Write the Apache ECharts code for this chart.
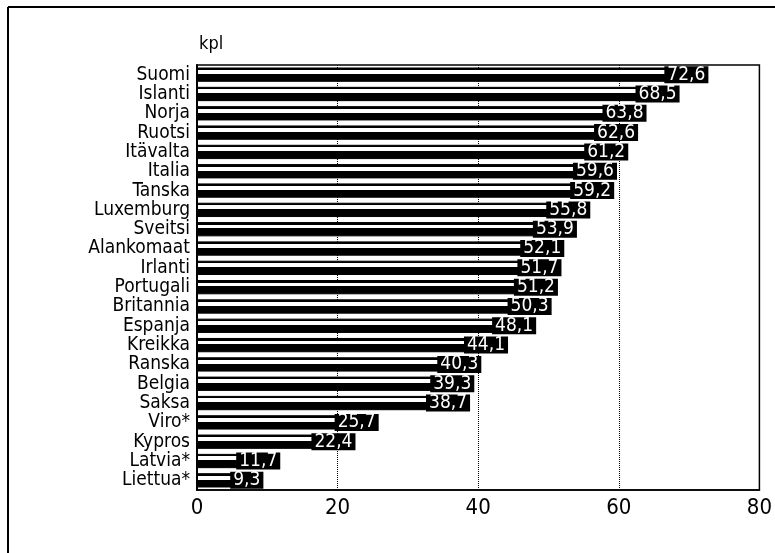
<!DOCTYPE html>
<html>
<head>
<meta charset="utf-8">
<script src="https://cdn.jsdelivr.net/npm/echarts@6/dist/echarts.min.js"></script>
<style>
  html, body { margin: 0; padding: 0; background: #fff; }
  #chart { width: 775px; height: 553px; }
</style>
</head>
<body>
<div id="chart"></div>
<script>
const countries = ['Suomi', 'Islanti', 'Norja', 'Ruotsi', 'Itävalta', 'Italia', 'Tanska',
  'Luxemburg', 'Sveitsi', 'Alankomaat', 'Irlanti', 'Portugali', 'Britannia', 'Espanja',
  'Kreikka', 'Ranska', 'Belgia', 'Saksa', 'Viro*', 'Kypros', 'Latvia*', 'Liettua*']
const values = [72.6, 68.5, 63.8, 62.6, 61.2, 59.6, 59.2, 55.8, 53.9, 52.1, 51.7, 51.2,
  50.3, 48.1, 44.1, 40.3, 39.3, 38.7, 25.7, 22.4, 11.7, 9.3]
const xTicks = [0, 20, 40, 60, 80]
const unitLabel = 'kpl'

// kapea kirjasin: font-stretch kulkee fontWeight-kentän kautta canvasille
const font = '"DejaVu Sans Condensed", "DejaVu Sans", sans-serif'
const narrow = 'condensed'

const chart = echarts.init(document.getElementById('chart'))

// musta palkki, jossa valkoinen raita
const barFill = new echarts.graphic.LinearGradient(0, 0, 0, 1, [
  { offset: 0, color: '#000' },
  { offset: 0.18, color: '#000' },
  { offset: 0.18, color: '#fff' },
  { offset: 0.45, color: '#fff' },
  { offset: 0.45, color: '#000' },
  { offset: 1, color: '#000' }
])

chart.setOption({
  animation: false,
  backgroundColor: '#fff',
  textStyle: { fontFamily: font },
  graphic: [
    { type: 'line', shape: { x1: 8, y1: 7, x2: 8, y2: 553 }, style: { stroke: '#000', lineWidth: 2 } },
    { type: 'line', shape: { x1: 8, y1: 7, x2: 775, y2: 7 }, style: { stroke: '#000', lineWidth: 2 } },
    { type: 'text', left: 199, top: 35, style: { text: unitLabel, fontSize: 18, fontFamily: font, fontWeight: narrow, fill: '#000' } }
  ],
  grid: {
    left: 197,
    right: 12,
    top: 65,
    bottom: 63,
    show: true,
    borderColor: '#000',
    borderWidth: 1.5
  },
  xAxis: {
    type: 'value',
    min: xTicks[0],
    max: xTicks[xTicks.length - 1],
    interval: 20,
    axisLine: { show: true, lineStyle: { color: '#000', width: 1.5 } },
    axisTick: { show: false },
    axisLabel: { color: '#000', fontSize: 22, margin: 7, fontFamily: font, fontWeight: narrow },
    splitLine: { show: true, lineStyle: { color: '#000', type: 'dotted', width: 1 } }
  },
  yAxis: {
    type: 'category',
    data: countries,
    inverse: true,
    axisLine: { show: true, lineStyle: { color: '#000', width: 2 } },
    axisTick: { show: false },
    axisLabel: { color: '#000', fontSize: 19, margin: 7, interval: 0, fontFamily: font, fontWeight: narrow }
  },
  series: [
    {
      type: 'bar',
      data: values,
      barCategoryGap: '26%',
      itemStyle: { color: barFill, borderColor: '#000', borderWidth: 1 },
      label: {
        show: true,
        position: 'insideRight',
        distance: 0,
        offset: [1, 0],
        formatter: p => String(p.value).replace('.', ','),
        color: '#fff',
        backgroundColor: '#000',
        padding: [1, 3, 0, 3],
        fontSize: 19,
        lineHeight: 16,
        fontFamily: font,
        fontWeight: narrow
      }
    }
  ]
})
</script>
</body>
</html>
